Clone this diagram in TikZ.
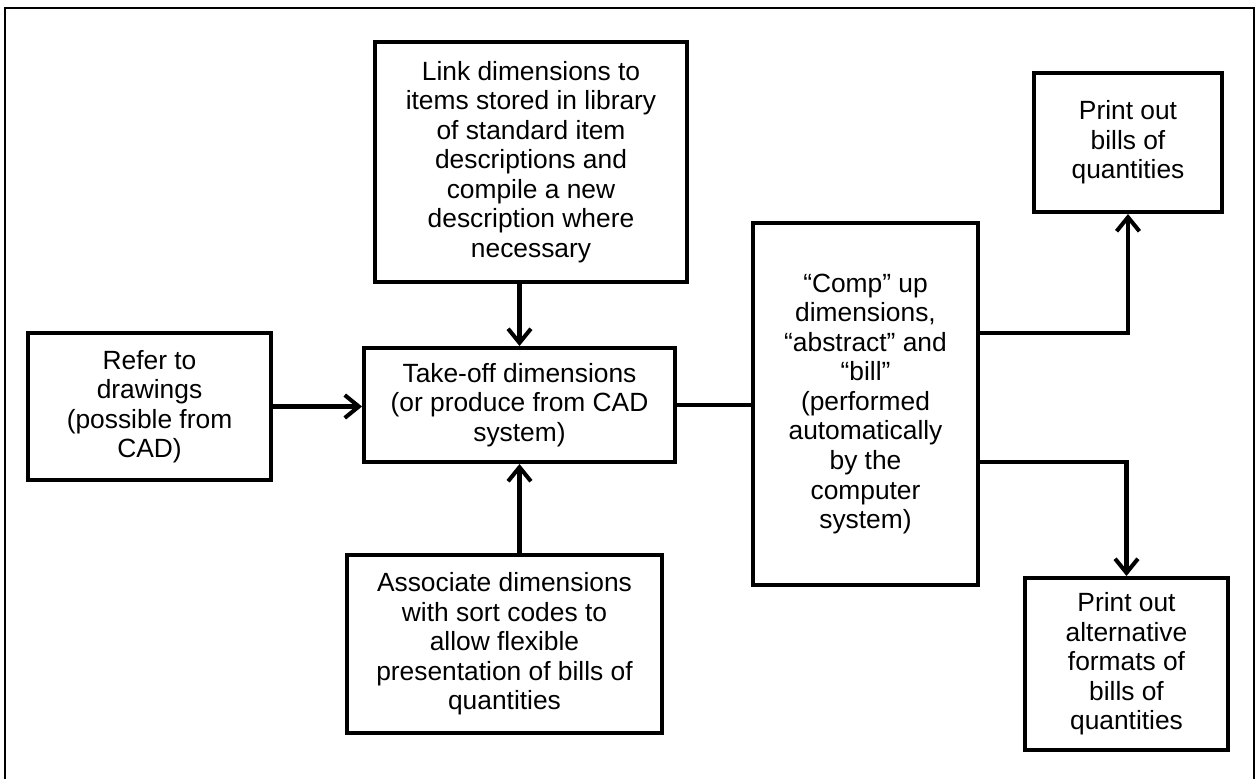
\documentclass[tikz,border=0pt]{standalone}
\usepackage{fontspec}
\setmainfont{Liberation Sans}
\usetikzlibrary{arrows.meta}

\begin{document}
\begin{tikzpicture}[x=0.02cm, y=-0.02cm,
        box/.style={draw, line width=2.3pt, align=center, inner sep=0pt, font=\fontsize{15}{16.8}\selectfont},
        flow/.style={line width=2.3pt, -{Straight Barb[length=8pt,width=13pt,line width=2.3pt]}}]
        \useasboundingbox (0,0) rectangle (1258,778);
        \draw[line width=0.9pt] (5,790) -- (5,8) -- (1254,8) -- (1254,790);
        \node[box, minimum width=6.24cm, minimum height=4.8cm] (link) at (531,162) {Link dimensions to\\items stored in library\\of standard item\\descriptions and\\compile a new\\description where\\necessary};
        \node[box, minimum width=4.86cm, minimum height=2.94cm] (refer) at (149.5,406.5) {Refer to\\drawings\\(possible from\\CAD)};
        \node[box, minimum width=6.22cm, minimum height=2.28cm] (takeoff) at (519.5,405) {Take-off dimensions\\(or produce from CAD\\system)};
        \node[box, minimum width=6.3cm, minimum height=3.56cm] (assoc) at (504.5,644) {Associate dimensions\\with sort codes to\\allow flexible\\presentation of bills of\\quantities};
        \node[box, minimum width=4.5cm, minimum height=7.24cm] (comp) at (865.5,404) {“Comp” up\\dimensions,\\“abstract” and\\“bill”\\(performed\\automatically\\by the\\computer\\system)};
        \node[box, minimum width=3.76cm, minimum height=2.78cm] (bills) at (1128,142.5) {Print out\\bills of\\quantities};
        \node[box, minimum width=4.06cm, minimum height=3.44cm] (alt) at (1126.5,664) {Print out\\alternative\\formats of\\bills of\\quantities};
        % connectors
        \draw[flow] (takeoff.north |- link.south) -- (takeoff.north);
        \draw[flow] (takeoff.south |- assoc.north) -- (takeoff.south);
        \draw[flow] (refer.east) -- (refer.east -| takeoff.west);
        \draw[line width=2.3pt] (takeoff.east) -- (takeoff.east -| comp.west);
        \draw[flow] ([yshift=1.42cm]comp.east) -| (bills.south);
        \draw[flow] ([yshift=-1.16cm]comp.east) -| (alt.north);
    \end{tikzpicture}
\end{document}
